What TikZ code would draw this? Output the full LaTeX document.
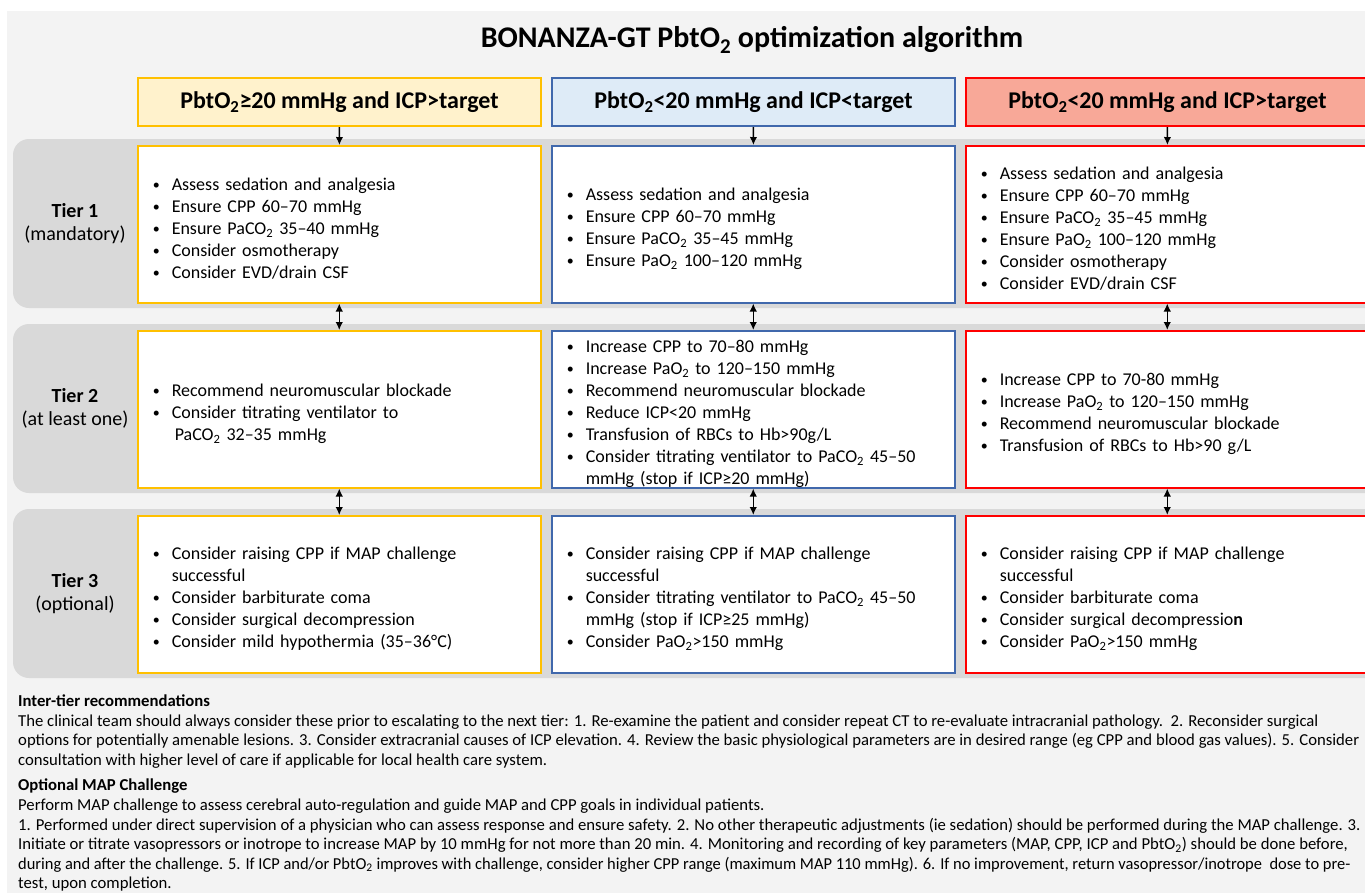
\documentclass[tikz,border=0pt]{standalone}
\usepackage{fontspec}
\setmainfont{Carlito}
\usetikzlibrary{arrows.meta}

\definecolor{pagegray}{HTML}{F3F3F3}
\definecolor{tiergray}{HTML}{D9D9D9}
\definecolor{yline}{HTML}{FFC000}
\definecolor{yfill}{HTML}{FFF2CC}
\definecolor{bline}{HTML}{4068AC}
\definecolor{bfill}{HTML}{DEEBF7}
\definecolor{rline}{HTML}{FF0000}
\definecolor{rfill}{HTML}{F8A898}

\newcommand{\two}{\textsubscript{2}}
\newcommand{\itm}[1]{\par\noindent\hangindent=19pt\hangafter=1\makebox[19pt][l]{\raisebox{1pt}{\fontsize{14}{14}\selectfont\textbullet}}#1\par}

\begin{document}
\begin{tikzpicture}[x=1pt,y=-1pt,
		headbox/.style={draw,line width=2pt,anchor=north west,minimum width=403pt,minimum height=48pt,inner sep=0pt,font=\bfseries\fontsize{24}{28}\selectfont},
		tierbox/.style={draw,line width=1.5pt,fill=white,anchor=north west,minimum width=403pt,minimum height=157pt,text width=373pt,inner xsep=15pt,inner ysep=0pt,align=left,font=\fontsize{18}{22}\selectfont},
		tierlab/.style={align=center,font=\fontsize{20}{23}\selectfont},
		notes/.style={anchor=north west,align=left,inner sep=0pt,font=\fontsize{16.7}{19.6}\selectfont},
		down/.style={-{Latex[length=8pt,width=7.5pt]},line width=1.5pt},
		both/.style={{Latex[length=8pt,width=7.5pt]}-{Latex[length=8pt,width=7.5pt]},line width=1.5pt}]
		
		\useasboundingbox (0,0) rectangle (1365,892);
		\clip (0,0) rectangle (1365,892);
		\fill[white] (0,0) rectangle (1365,892);
		\fill[pagegray] (7,11) rectangle (1400,900);
		
		\fill[tiergray,rounded corners=16pt] (13,139) rectangle (1420,308);
		\fill[tiergray,rounded corners=16pt] (13,324) rectangle (1420,493);
		\fill[tiergray,rounded corners=16pt] (13,509) rectangle (1420,678);
		
		\node[font=\bfseries\fontsize{30}{36}\selectfont] (title) at (752,40) {BONANZA-GT PbtO\two{} optimization algorithm};
		
		\node[headbox,draw=yline,fill=yfill] (yhead) at (137,77) {PbtO\two≥20 mmHg and ICP>target};
		\node[headbox,draw=bline,fill=bfill] (bhead) at (551,77) {PbtO\two<20 mmHg and ICP<target};
		\node[headbox,draw=rline,fill=rfill] (rhead) at (965,77) {PbtO\two<20 mmHg and ICP>target};
		
		\node[tierlab] (tier1) at (75,223.5) {\textbf{Tier 1}\\(mandatory)};
		\node[tierlab] (tier2) at (75,408.5) {\textbf{Tier 2}\\(at least one)};
		\node[tierlab] (tier3) at (75,593.5) {\textbf{Tier 3}\\(optional)};
		
		\node[tierbox,draw=yline] (y1) at (137,145) {
			\itm{Assess sedation and analgesia}
			\itm{Ensure CPP 60–70 mmHg}
			\itm{Ensure PaCO\two{} 35–40 mmHg}
			\itm{Consider osmotherapy}
			\itm{Consider EVD/drain CSF}};
		\node[tierbox,draw=bline] (b1) at (551,145) {
			\itm{Assess sedation and analgesia}
			\itm{Ensure CPP 60–70 mmHg}
			\itm{Ensure PaCO\two{} 35–45 mmHg}
			\itm{Ensure PaO\two{} 100–120 mmHg}};
		\node[tierbox,draw=rline] (r1) at (965,145) {
			\itm{Assess sedation and analgesia}
			\itm{Ensure CPP 60–70 mmHg}
			\itm{Ensure PaCO\two{} 35–45 mmHg}
			\itm{Ensure PaO\two{} 100–120 mmHg}
			\itm{Consider osmotherapy}
			\itm{Consider EVD/drain CSF}};
		
		\node[tierbox,draw=yline] (y2) at (137,330) {
			\itm{Recommend neuromuscular blockade}
			\itm{Consider titrating ventilator to\newline\hspace*{3pt}PaCO\two{} 32–35 mmHg}};
		\node[tierbox,draw=bline] (b2) at (551,330) {
			\itm{Increase CPP to 70–80 mmHg}
			\itm{Increase PaO\two{} to 120–150 mmHg}
			\itm{Recommend neuromuscular blockade}
			\itm{Reduce ICP<20 mmHg}
			\itm{Transfusion of RBCs to Hb>90g/L}
			\itm{Consider titrating ventilator to PaCO\two{} 45–50\newline mmHg (stop if ICP≥20 mmHg)}};
		\node[tierbox,draw=rline] (r2) at (965,330) {
			\itm{Increase CPP to 70-80 mmHg}
			\itm{Increase PaO\two{} to 120–150 mmHg}
			\itm{Recommend neuromuscular blockade}
			\itm{Transfusion of RBCs to Hb>90 g/L}};
		
		\node[tierbox,draw=yline] (y3) at (137,515) {
			\itm{Consider raising CPP if MAP challenge\newline successful}
			\itm{Consider barbiturate coma}
			\itm{Consider surgical decompression}
			\itm{Consider mild hypothermia (35–36°C)}};
		\node[tierbox,draw=bline] (b3) at (551,515) {
			\itm{Consider raising CPP if MAP challenge\newline successful}
			\itm{Consider titrating ventilator to PaCO\two{} 45–50\newline mmHg (stop if ICP≥25 mmHg)}
			\itm{Consider PaO\two{}>150 mmHg}};
		\node[tierbox,draw=rline] (r3) at (965,515) {
			\itm{Consider raising CPP if MAP challenge\newline successful}
			\itm{Consider barbiturate coma}
			\itm{Consider surgical decompressio\textbf{n}}
			\itm{Consider PaO\two{}>150 mmHg}};
		
		\draw[down] (yhead) -- (y1);
		\draw[down] (bhead) -- (b1);
		\draw[down] (rhead) -- (r1);
		\draw[both] (y1) -- (y2);
		\draw[both] (b1) -- (b2);
		\draw[both] (r1) -- (r2);
		\draw[both] (y2) -- (y3);
		\draw[both] (b2) -- (b3);
		\draw[both] (r2) -- (r3);
		
		\node[notes] (inter) at (18,694.5) {\textbf{Inter-tier recommendations}\\
			The clinical team should always consider these prior to escalating to the next tier: 1. Re-examine the patient and consider repeat CT to re-evaluate intracranial pathology.\ \ 2. Reconsider surgical\\
			options for potentially amenable lesions. 3. Consider extracranial causes of ICP elevation. 4. Review the basic physiological parameters are in desired range (eg CPP and blood gas values). 5. Consider\\
			consultation with higher level of care if applicable for local health care system.};
		\node[notes] (mapch) at (18,779) {\textbf{Optional MAP Challenge}\\
			Perform MAP challenge to assess cerebral auto-regulation and guide MAP and CPP goals in individual patients.\\
			1. Performed under direct supervision of a physician who can assess response and ensure safety. 2. No other therapeutic adjustments (ie sedation) should be performed during the MAP challenge. 3.\\
			Initiate or titrate vasopressors or inotrope to increase MAP by 10 mmHg for not more than 20 min. 4. Monitoring and recording of key parameters (MAP, CPP, ICP and PbtO\two) should be done before,\\
			\scalebox{0.985}[1]{during and after the challenge. 5. If ICP and/or PbtO\two{} improves with challenge, consider higher CPP range (maximum MAP 110 mmHg). 6. If no improvement, return vasopressor/inotrope\ \ dose to pre-}\\
			test, upon completion.};
	\end{tikzpicture}
\end{document}
